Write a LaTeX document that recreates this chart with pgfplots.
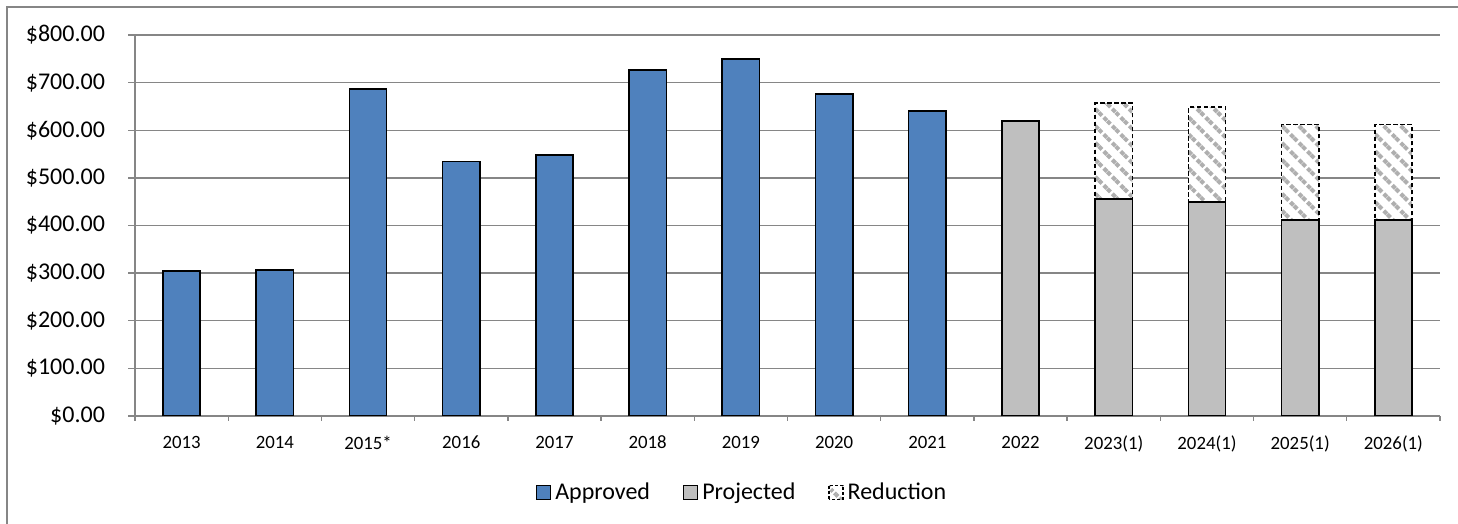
\documentclass[border=0pt]{standalone}
\usepackage{pgfplots}
\pgfplotsset{compat=1.18}
\usepackage{pgfplotstable}
\usepackage{fontspec}
\setmainfont{Carlito}
\usetikzlibrary{patterns.meta}
\definecolor{appr}{RGB}{79,129,189}
\definecolor{proj}{RGB}{191,191,191}
\definecolor{hatch}{RGB}{175,175,175}
\definecolor{gridc}{RGB}{134,134,134}

\pgfplotstableread{
x val
0 305
1 307
2 687
3 534
4 548
5 727
6 750
7 676
8 640
}\approved
\pgfplotstableread{
x proj
9 619
10 456
11 449
12 412
13 412
}\projected
\pgfplotstableread{
x base red
10 456 201
11 449 200
12 412 200
13 412 200
}\reduction

\tikzset{redpat/.style={fill=white, postaction={pattern={Lines[angle=-45,distance=6pt,line width=2pt]}, pattern color=hatch}}}

\begin{document}
\begin{tikzpicture}
\useasboundingbox (0pt,0pt) rectangle (729pt,262pt);
\draw[gridc, line width=0.6pt] (3.5pt,-20pt) rectangle (760pt,258.5pt);
\begin{axis}[
  at={(67.5pt,54pt)}, anchor=south west,
  scale only axis, width=652.5pt, height=190.5pt,
  ybar, bar shift=0pt, bar width=0.4,
  xmin=-0.5, xmax=13.5, ymin=0, ymax=800,
  ytick={0,100,...,800},
  xtick={0,...,13},
  xticklabels={2013,2014,2015*,2016,2017,2018,2019,2020,2021,2022,2023(1),2024(1),2025(1),2026(1)},
  minor xtick={-0.5,0.5,...,13.5},
  axis x line*=bottom, axis y line*=left,
  axis line style={gridc, line width=0.7pt, -},
  ymajorgrids, grid style={gridc, line width=0.7pt},
  tick align=outside, major tick length=3.5pt, minor tick length=2.5pt,
  tick style={gridc, line width=0.7pt},
  major x tick style={draw=none},
  minor x tick style={gridc, line width=0.7pt},
  /pgf/number format/assume math mode=true,
  yticklabel={\$\pgfmathprintnumber[fixed,fixed zerofill,precision=2]{\tick}},
  yticklabel style={font=\fontsize{12}{14}\selectfont, xshift=-8pt},
  xticklabel style={font=\fontsize{9.4}{11}\selectfont, yshift=-3pt},
  legend image code/.code={\draw[#1] (0pt,-3.5pt) rectangle (7pt,3.5pt);},
  legend style={at={(0.466,-0.2)}, anchor=center, draw=none, fill=none,
    legend columns=-1, font=\fontsize{12}{14}\selectfont,
    /tikz/every even column/.append style={column sep=14.5pt}},
]
\addplot[fill=appr, draw=black, line width=0.8pt, forget plot] table[x=x,y=val]{\approved};
\addplot[redpat, draw=black, dash pattern=on 2.2pt off 1.3pt, line width=0.8pt, forget plot] table[x=x, y expr=\thisrow{base}+\thisrow{red}]{\reduction};
\addplot[fill=proj, draw=black, line width=0.8pt, forget plot] table[x=x,y=proj]{\projected};
\addlegendimage{fill=appr, draw=black, line width=0.6pt}
\addlegendentry{Approved}
\addlegendimage{fill=proj, draw=black, line width=0.6pt}
\addlegendentry{Projected}
\addlegendimage{redpat, draw=black, dash pattern=on 1.5pt off 1pt, line width=0.6pt}
\addlegendentry{Reduction}
\end{axis}
\end{tikzpicture}
\end{document}
